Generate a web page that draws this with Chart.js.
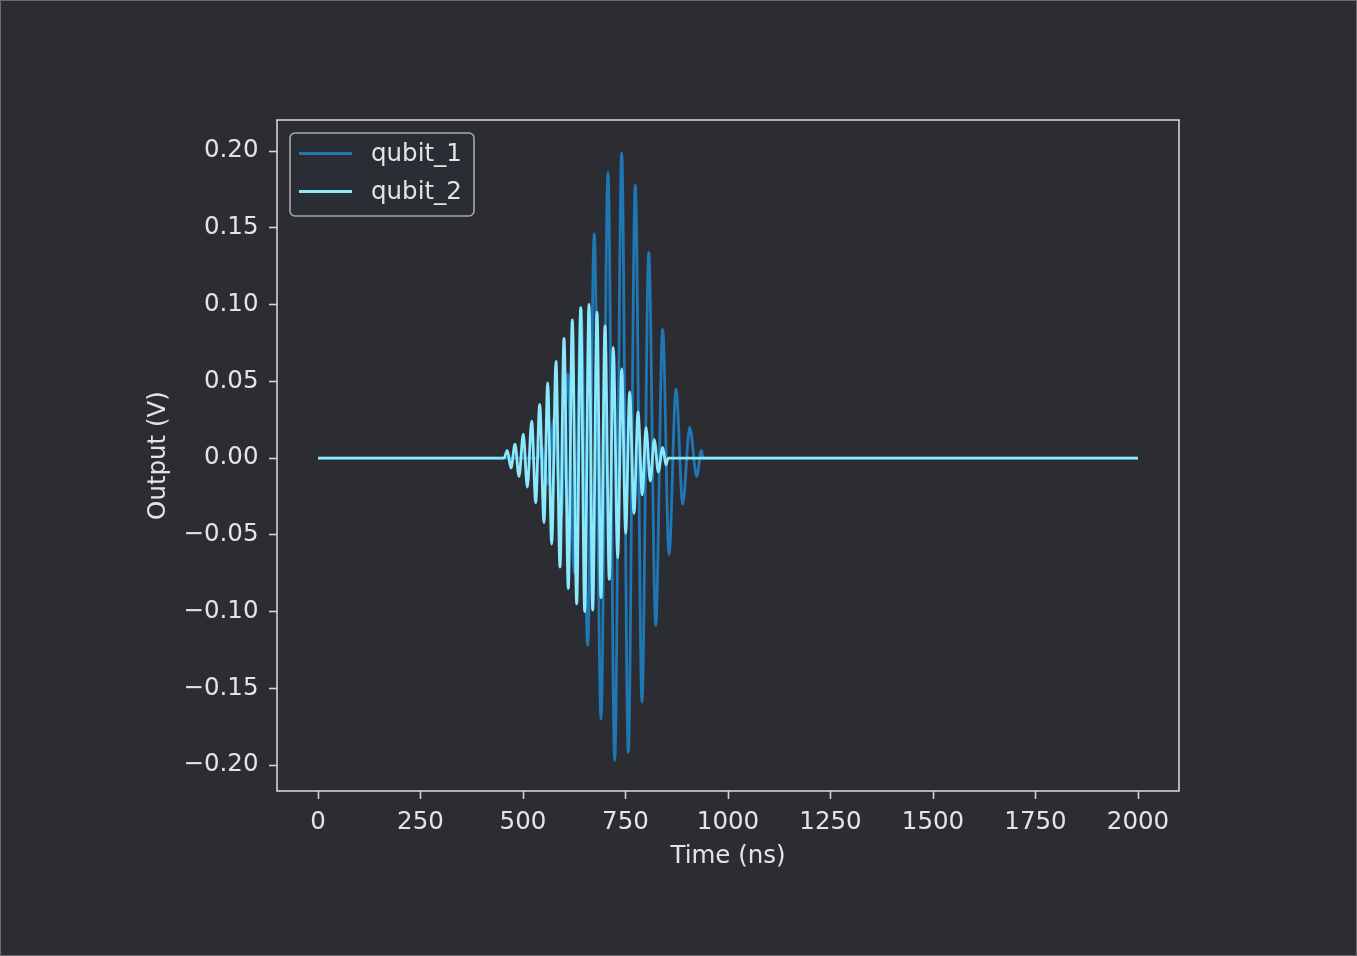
<!DOCTYPE html>
<html>
<head>
<meta charset="utf-8">
<title>Qubit output</title>
<script src="https://cdn.jsdelivr.net/npm/chart.js@4.4.1/dist/chart.umd.min.js"></script>
<style>
  html, body { margin: 0; padding: 0; background: #2b2d33; }
  #wrap { width: 1357px; height: 956px; }
  canvas { display: block; }
</style>
</head>
<body>
<div id="wrap"><canvas id="pulseChart" width="1357" height="956"></canvas></div>
<script>
// extrema (time in ns, output in V)
const q1Time = [0, 537.8, 543.9, 559.5, 575.6, 592.7, 609.0, 625.4, 641.5, 657.8, 673.9, 690.2, 707.3,
    723.7, 740.7, 756.8, 773.9, 790.2, 806.6, 823.7, 840.7, 856.1, 873.2, 889.5, 906.6, 923.7, 934.9, 939.0, 2000];
const q1Volt = [0, 0, 0.009, -0.017, 0.026, -0.039, 0.055, -0.075, 0.098, -0.122, 0.146, -0.170, 0.186,
    -0.197, 0.199, -0.192, 0.178, -0.159, 0.134, -0.109, 0.084, -0.063, 0.045, -0.030, 0.020, -0.012, 0.005, 0, 0];

const q2Time = [0, 453.7, 461.7, 470.7, 480.5, 490.2, 500.7, 510.5, 521.2, 531.0, 540.7, 551.2, 560.2,
    570.0, 580.5, 590.2, 600.0, 610.5, 620.2, 631.0, 640.7, 650.5, 661.0, 670.0, 680.5, 690.2, 700.0,
    710.5, 720.2, 731.0, 740.7, 750.5, 760.2, 770.7, 780.5, 791.0, 800.0, 810.5, 820.2, 830.0, 840.7,
    848.8, 853.7, 2000];
const q2Volt = [0, 0, 0.005, -0.0065, 0.009, -0.012, 0.0155, -0.019, 0.024, -0.029, 0.035, -0.042, 0.049,
    -0.056, 0.063, -0.071, 0.078, -0.085, 0.090, -0.095, 0.098, -0.100, 0.100, -0.099, 0.095, -0.091, 0.086,
    -0.079, 0.072, -0.065, 0.058, -0.049, 0.043, -0.036, 0.030, -0.024, 0.020, -0.015, 0.012, -0.009, 0.007,
    -0.0045, 0, 0];

const seriesNames = ['qubit_1', 'qubit_2'];
const seriesColors = ['#1f77b4', '#8be9fd'];

const xTicks = [0, 250, 500, 750, 1000, 1250, 1500, 1750, 2000];
const yTicks = [-0.20, -0.15, -0.10, -0.05, 0.00, 0.05, 0.10, 0.15, 0.20];

const textColor = '#e4e4e4';
const axisColor = '#d4d4d4';
const bgColor = '#2b2d33';
const fontSize = 24.5;

Chart.defaults.font.family = "'DejaVu Sans', sans-serif";
Chart.defaults.font.size = fontSize;
Chart.defaults.color = textColor;

function toPoints(xs, ys) {
    return xs.map((x, i) => ({ x: x, y: ys[i] }));
}

function fmtY(v) {
    const s = Math.abs(v).toFixed(2);
    return v < -1e-9 ? '\u2212' + s : s;
}

// frame around plot area, legend box and the figure edge
const framePlugin = {
    id: 'frame',
    beforeDraw(chart) {
        const ctx = chart.ctx;
        ctx.save();
        ctx.fillStyle = bgColor;
        ctx.fillRect(0, 0, chart.width, chart.height);
        ctx.strokeStyle = '#6a6c72';
        ctx.lineWidth = 1;
        ctx.strokeRect(0.5, 0.5, chart.width - 1, chart.height - 1);
        ctx.restore();
    },
    afterDraw(chart) {
        const ctx = chart.ctx;
        const a = chart.chartArea;
        ctx.save();
        ctx.strokeStyle = axisColor;
        ctx.lineWidth = 1.6;
        ctx.strokeRect(a.left, a.top, a.right - a.left, a.bottom - a.top);

        // legend
        const lx = a.left + 13, ly = a.top + 13, lw = 184, lh = 83;
        ctx.beginPath();
        ctx.roundRect(lx, ly, lw, lh, 5);
        ctx.fillStyle = 'rgba(43,45,51,0.8)';
        ctx.fill();
        ctx.strokeStyle = '#a8a8a8';
        ctx.lineWidth = 1.6;
        ctx.stroke();

        ctx.font = fontSize + "px 'DejaVu Sans'";
        ctx.textBaseline = 'middle';
        ctx.textAlign = 'left';
        seriesNames.forEach((name, i) => {
            const yy = ly + 20.5 + i * 38;
            ctx.beginPath();
            ctx.moveTo(lx + 9, yy);
            ctx.lineTo(lx + 62, yy);
            ctx.strokeStyle = seriesColors[i];
            ctx.lineWidth = 3;
            ctx.stroke();
            ctx.fillStyle = textColor;
            ctx.fillText(name, lx + 81, yy + 1.5);
        });
        ctx.restore();
    }
};

const ctx = document.getElementById('pulseChart').getContext('2d');
new Chart(ctx, {
    type: 'line',
    data: {
        datasets: [
            {
                label: seriesNames[0],
                data: toPoints(q1Time, q1Volt),
                borderColor: seriesColors[0],
                borderWidth: 2.8,
                pointRadius: 0,
                cubicInterpolationMode: 'monotone',
                fill: false,
                order: 1
            },
            {
                label: seriesNames[1],
                data: toPoints(q2Time, q2Volt),
                borderColor: seriesColors[1],
                borderWidth: 2.8,
                pointRadius: 0,
                cubicInterpolationMode: 'monotone',
                fill: false,
                order: 0
            }
        ]
    },
    options: {
        responsive: false,
        animation: false,
        devicePixelRatio: 1,
        layout: { padding: { left: 140, top: 120, right: 178, bottom: 65 } },
        plugins: {
            legend: { display: false },
            tooltip: { enabled: false }
        },
        scales: {
            x: {
                type: 'linear',
                min: -100,
                max: 2100,
                afterBuildTicks: (scale) => { scale.ticks = xTicks.map(v => ({ value: v })); },
                afterFit: (scale) => { scale.height = 100; },
                ticks: {
                    autoSkip: false,
                    maxRotation: 0,
                    padding: 9,
                    color: textColor,
                    callback: (v) => String(v)
                },
                grid: {
                    drawOnChartArea: false,
                    drawTicks: true,
                    tickLength: 8,
                    tickWidth: 1.6,
                    tickColor: axisColor
                },
                border: { display: false },
                title: {
                    display: true,
                    text: 'Time (ns)',
                    color: textColor,
                    padding: { top: 0, bottom: 19.5 }
                }
            },
            y: {
                type: 'linear',
                min: -0.2169,
                max: 0.2202,
                afterBuildTicks: (scale) => { scale.ticks = yTicks.map(v => ({ value: v })); },
                afterFit: (scale) => { scale.width = 137; },
                ticks: {
                    autoSkip: false,
                    padding: 10.5,
                    color: textColor,
                    callback: (v) => fmtY(v)
                },
                grid: {
                    drawOnChartArea: false,
                    drawTicks: true,
                    tickLength: 8,
                    tickWidth: 1.6,
                    tickColor: axisColor
                },
                border: { display: false },
                title: {
                    display: true,
                    text: 'Output (V)',
                    color: textColor,
                    padding: { top: 4, bottom: 0 }
                }
            }
        }
    },
    plugins: [framePlugin]
});
</script>
</body>
</html>
